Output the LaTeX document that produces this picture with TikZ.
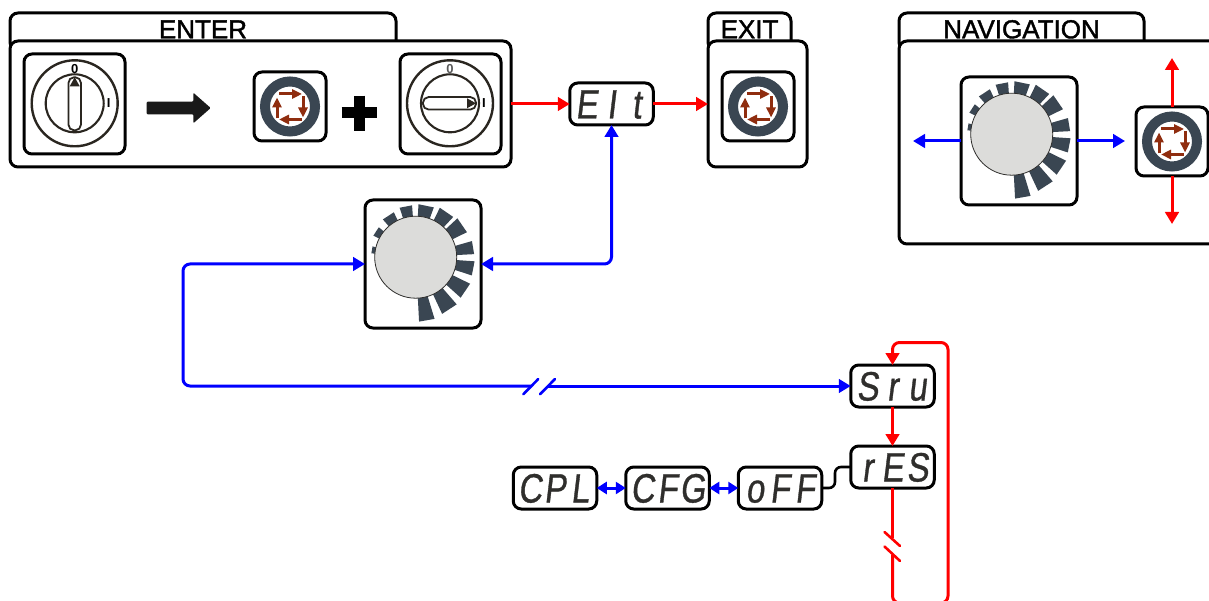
\documentclass[tikz,border=0pt]{standalone}
\usepackage{xcolor}
\usepackage{fontspec}
\setmainfont{Liberation Sans}
\newfontfamily\headfont[FakeBold=1.5]{Liberation Sans}
\newfontfamily\segfont[FakeSlant=0.12,FakeStretch=0.8,FakeBold=0.8]{Liberation Sans}
\usepackage{tikz}
\usetikzlibrary{arrows.meta,positioning}
\definecolor{ringgrey}{HTML}{3A4652}
\definecolor{keyred}{HTML}{8F2D0F}
\definecolor{knobgrey}{HTML}{DCDCDA}
\definecolor{segdark}{HTML}{2F2E2C}
\definecolor{dialdark}{HTML}{2A2620}
\newcommand{\segtext}[3]{\makebox[25pt]{#1}\makebox[25pt]{#2}\makebox[25pt]{#3}}
\tikzset{
  keyarrow/.style={draw=keyred, line width=3pt, -{Triangle[length=10pt,width=9pt]}},
  ringkey/.pic={
    \draw [ringgrey, line width=10pt] (0,0) circle (25pt);
    \draw [keyarrow] (-11,-12.5) -- (12,-12.5);
    \draw [keyarrow] (13,-10) -- (13,11);
    \draw [keyarrow] (12,13) -- (-11,13);
    \draw [keyarrow] (-13,12) -- (-13,-9);
  },
  dialface/.pic={
    \draw [dialdark, line width=2.4pt] (0,0) circle (43pt);
    \draw [dialdark, line width=2.1pt] (0,0) circle (29pt);
  },
  dialslot/.pic={
    \draw [dialdark, line width=1.8pt, fill=white, rounded corners=5.5] (-6.2,-26) rectangle (6.2,27);
    \fill [dialdark] (0,-26) -- (5,-17) -- (-5,-17) -- cycle;
  },
  turnwheel/.pic={
    \foreach \a/\b/\r in {175/166/44.5, 153/141/47.5, 131/116/50, 108/94/52, 87/70/53, 64/47/55,
                          43/26/57, 16/3/58.5, -4/-18/59, -26/-42/60.5, -49/-65/62.5, -73/-87/64.5}
      \fill [ringgrey] (\a:36pt) -- (\a:\r pt) -- (\b:\r pt) -- (\b:36pt) -- cycle;
    \draw [segdark, fill=knobgrey, line width=0.8pt] (0,0) circle (41pt);
  }
}
\begin{document}
\begin{tikzpicture}[x=1pt, y=-1pt,
  panel/.style={rectangle, draw, fill=white, line width=3pt, rounded corners=8pt, inner sep=0pt, outer sep=0pt, anchor=north west},
  tabhead/.style={rectangle, draw, line width=3pt, rounded corners=8pt, inner sep=0pt, outer sep=0pt, anchor=north,
    text height=25.3pt, text depth=12pt, font=\headfont\fontsize{26}{26}\selectfont},
  keybox/.style={panel, minimum width=72pt, minimum height=69pt},
  switchbox/.style={panel, minimum width=101pt, minimum height=100pt},
  wheelbox/.style={panel, minimum width=116pt, minimum height=128pt},
  display/.style={rectangle, draw, fill=white, line width=3pt, rounded corners=8pt, inner sep=0pt, outer sep=0pt,
    minimum width=83.5pt, minimum height=42pt, text height=29pt, text depth=0pt, text=segdark,
    font=\segfont\fontsize{41}{41}\selectfont},
  dialmark/.style={inner sep=0pt, font=\bfseries\fontsize{13}{13}\selectfont},
  redline/.style={draw=red, line width=3pt},
  blueline/.style={draw=blue, line width=3pt},
  redlink/.style={redline, -{Triangle[length=12pt,width=13.5pt]}},
  bluelink/.style={blueline, -{Triangle[length=12pt,width=13.5pt]}},
  bluetwin/.style={blueline, {Triangle[length=10pt,width=12pt]}-{Triangle[length=10pt,width=12pt]}},
  breakmark/.style={line width=2.6pt, line cap=round}]
  \clip (0,0) rectangle (1209,601);

  \node [tabhead, minimum width=386pt] (entertab) at (203,13) {ENTER};
  \node [panel, minimum width=501pt, minimum height=126pt] (enter) at (10,41) {};
  \node [switchbox] (switch1) at (24,54) {};
  \pic at (74.7,103.3) {dialface};
  \pic at (74.7,103.3) {dialslot};
  \node [dialmark] (zero1) at (74.7,69) {0};
  \node [dialmark] (one1) at (108.7,103.3) {I};
  \fill [black!90, rounded corners=1pt] (146.7,101.7) -- (193.3,101.7) -- (193.3,92.7) -- (210.7,108) -- (193.3,123.3)
    -- (193.3,114.3) -- (146.7,114.3) -- cycle;
  \node [keybox] (key1) at (254,72) {};
  \pic at (key1.center) {ringkey};
  \draw [black, line width=11pt] (341.7,113) -- (376.7,113) (359,95.7) -- (359,130.7);
  \node [switchbox] (switch2) at (400,54) {};
  \pic at (450,103.3) {dialface};
  \pic [rotate=-90] at (450,103.3) {dialslot};
  \node [dialmark, text=black!65] (zero2) at (450,69.3) {0};
  \node [dialmark] (one2) at (484,103.3) {I};

  \node [display] (elt) at (611.5,104) {\segtext{E}{I}{t}};

  \node [tabhead, minimum width=83pt] (exittab) at (749.5,13) {EXIT};
  \node [panel, minimum width=99pt, minimum height=126pt] (exit) at (708,41) {};
  \node [keybox] (key2) at (722,72) {};
  \pic at (key2.center) {ringkey};

  \node [tabhead, minimum width=245pt] (navtab) at (1021.5,13) {NAVIGATION};
  \node [panel, minimum width=340pt, minimum height=203pt] (nav) at (899,41) {};
  \node [wheelbox] (wheel2) at (961,77) {};
  \pic at ([shift={(-7.3,-6.8)}]wheel2.center) {turnwheel};
  \node [keybox] (key3) at (1136,107) {};
  \pic at (key3.center) {ringkey};
  \coordinate (navleft) at (913,141);
  \coordinate (navright) at (1125,141);
  \coordinate (navup) at (1172,58);
  \coordinate (navdown) at (1172,224);

  \node [wheelbox] (wheel1) at (365,200) {};
  \pic at ([shift={(-7.3,-6.8)}]wheel1.center) {turnwheel};

  \node [display] (sru) at (892.5,386) {\segtext{S}{r}{u}};
  \node [display, below=39pt of sru] (res) {\segtext{r}{E}{S}};
  \node [display] (cpl) at (555,488) {\segtext{C}{P}{L}};
  \node [display, right=29pt of cpl] (cfg) {\segtext{C}{F}{G}};
  \node [display, right=29pt of cfg] (off) {\segtext{o}{F}{F}};

  \coordinate (bluecut1) at (531,386);
  \coordinate (bluecut2) at (547,386);
  \coordinate (redcut1) at (892.5,538);
  \coordinate (redcut2) at (892.5,555);

  \path [redlink] (enter.east |- elt.west) -- (elt.west);
  \path [redlink] (elt.east) -- (exit.west |- elt.east);
  \path [bluelink] (wheel2.west) -- (navleft);
  \path [bluelink] (wheel2.east) -- (navright);
  \path [redlink] (key3.north) -- (navup);
  \path [redlink] (key3.south) -- (navdown);
  \path [bluelink, {Triangle[length=12pt,width=13.5pt]}-{Triangle[length=12pt,width=13.5pt]}, rounded corners=7pt] (elt.south) |- (wheel1.east);
  \path [bluelink, rounded corners=7pt] (bluecut1) -- (183,386) -- (183,264) -- (wheel1.west);
  \path [bluelink] (bluecut2) -- (sru.west);
  \draw [blue, breakmark] (523.3,394.3) -- (538.3,379);
  \draw [blue, breakmark] (540,394.3) -- (555,379);
  \path [redlink] (sru.south) -- (res.north);
  \path [redline] (res.south) -- (redcut1);
  \path [redlink, rounded corners=7pt] (redcut2) -- (892.5,603) -- (948,603) -- (948,342.5) -- (892.5,342.5) -- (sru.north);
  \draw [red, breakmark] (884.5,532) -- (900,546);
  \draw [red, breakmark] (884.5,546.5) -- (900,561);
  \path [bluetwin] (cpl.east) -- (cfg.west);
  \path [bluetwin] (cfg.east) -- (off.west);
  \draw [line width=2.6pt, rounded corners=6pt] (off.east) -- (835,488) -- (835,467) -- (res.west);
\end{tikzpicture}
\end{document}
